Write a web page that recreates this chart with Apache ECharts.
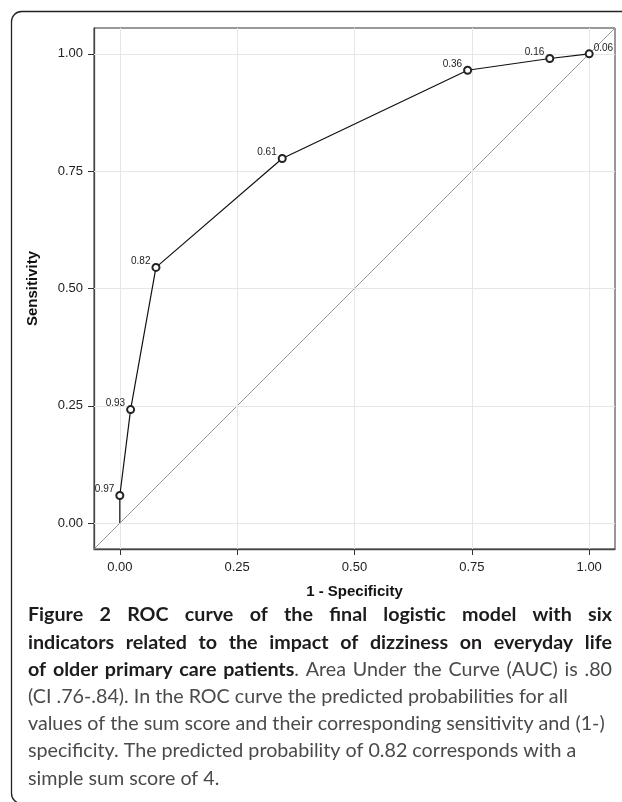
<!DOCTYPE html>
<html>
<head>
<meta charset="utf-8">
<script src="https://cdn.jsdelivr.net/npm/echarts@6/dist/echarts.min.js"></script>
<style>
html, body { margin: 0; padding: 0; background: #fff; }
#chart { width: 622px; height: 802px; }
</style>
</head>
<body>
<div id="chart"></div>
<script>
// ROC curve: 1 - specificity, sensitivity, predicted probability at each cut-off
var fpr = [0, 0, 0.023, 0.077, 0.346, 0.741, 0.916, 1.0];
var tpr = [0, 0.059, 0.242, 0.545, 0.777, 0.965, 0.990, 1.0];
var probLabels = ['', '0.97', '0.93', '0.82', '0.61', '0.36', '0.16', '0.06'];

var tickValues = [0, 0.25, 0.5, 0.75, 1];
var tickLabels = ['0.00', '0.25', '0.50', '0.75', '1.00'];
var axisRange = [-0.055, 1.055];

// caption text
var captionBold = [
  'Figure 2 ROC curve of the final logistic model with six',
  'indicators related to the impact of dizziness on everyday life',
  'of older primary care patients'
];
var captionLine3Rest = '. Area Under the Curve (AUC) is .80';
var captionPlain = [
  '(CI .76-.84). In the ROC curve the predicted probabilities for all',
  'values of the sum score and their corresponding sensitivity and (1-)',
  'specificity. The predicted probability of 0.82 corresponds with a',
  'simple sum score of 4.'
];

var axisFont = 'Liberation Sans, Arial, sans-serif';
var capFont = 'Lato';
var capLeft = 28, capRight = 612, capTop = 615, capStep = 27.2;

var ctx = document.createElement('canvas').getContext('2d');
function textW(t, bold, size) {
  ctx.font = (bold ? 'bold ' : 'normal ') + size + 'px ' + capFont;
  return ctx.measureText(t).width;
}
// fit the plain caption size to the width of the longest plain line
var capSize = Math.round(16 * (606 - capLeft) / textW(captionPlain[1], false, 16) * 10) / 10;

function capText(t, x, y, bold) {
  return {
    type: 'text', x: x, y: y, silent: true,
    style: {
      text: t, fill: bold ? '#1e1b1c' : '#4a4a4a',
      fontSize: capSize, fontWeight: bold ? 'bold' : 'normal', fontFamily: capFont,
      align: 'left', verticalAlign: 'middle'
    }
  };
}

// words are lists of [text, bold] pieces, spread over the full width
function justify(words, y) {
  var widths = words.map(function (w) {
    return w.reduce(function (s, p) { return s + textW(p[0], p[1], capSize); }, 0);
  });
  var total = widths.reduce(function (a, b) { return a + b; }, 0);
  var gap = (capRight - capLeft - total) / (words.length - 1);
  var x = capLeft, els = [];
  words.forEach(function (w, i) {
    var px = x;
    w.forEach(function (p) {
      els.push(capText(p[0], px, y, p[1]));
      px += textW(p[0], p[1], capSize);
    });
    x += widths[i] + gap;
  });
  return els;
}

var captionEls = [];
captionBold.slice(0, 2).forEach(function (line, i) {
  var words = line.split(' ').map(function (w) { return [[w, true]]; });
  captionEls = captionEls.concat(justify(words, capTop + i * capStep));
});
var w3 = captionBold[2].split(' ').map(function (w) { return [[w, true]]; });
var rest = captionLine3Rest.split(' ');
w3[w3.length - 1].push([rest[0], false]);
rest.slice(1).forEach(function (w) { w3.push([[w, false]]); });
captionEls = captionEls.concat(justify(w3, capTop + 2 * capStep));
captionPlain.forEach(function (line, i) {
  captionEls.push(capText(line, capLeft, capTop + (3 + i) * capStep, false));
});

function tickLabel(v) {
  for (var k = 0; k < tickValues.length; k++) {
    if (Math.abs(tickValues[k] - v) < 1e-9) return tickLabels[k];
  }
  return '';
}

var pointData = fpr.map(function (x, i) {
  var last = i === fpr.length - 1;
  return {
    value: [x, tpr[i]],
    symbol: probLabels[i] ? 'emptyCircle' : 'none',
    label: {
      show: !!probLabels[i],
      formatter: probLabels[i],
      position: last ? 'right' : 'left',
      distance: last ? 0 : 1,
      offset: [0, -6],
      fontSize: 10,
      color: '#222',
      fontFamily: axisFont
    }
  };
});

function makeAxis(name, gap, isY) {
  return {
    type: 'value',
    min: axisRange[0],
    max: axisRange[1],
    name: name,
    nameLocation: 'middle',
    nameGap: gap,
    nameRotate: isY ? 90 : 0,
    nameTextStyle: { fontWeight: 'bold', fontSize: 15, color: '#111', fontFamily: axisFont },
    axisLine: { show: true, onZero: false, lineStyle: { color: '#444', width: 1.3 } },
    axisTick: { show: true, length: 6, customValues: tickValues, lineStyle: { color: '#333' } },
    axisLabel: {
      customValues: tickValues,
      formatter: tickLabel,
      fontSize: 13,
      color: '#222',
      margin: isY ? 11 : 12,
      fontFamily: axisFont
    },
    splitLine: { show: false }
  };
}

var gridLines = tickValues.map(function (v) { return { xAxis: v }; })
  .concat(tickValues.map(function (v) { return { yAxis: v }; }));

var chart = echarts.init(document.getElementById('chart'));
chart.setOption({
  animation: false,
  backgroundColor: '#fff',
  grid: {
    left: 94, top: 28, right: 7, bottom: 253,
    show: true, borderColor: '#333', borderWidth: 1
  },
  xAxis: makeAxis('1 - Specificity', 35, false),
  yAxis: makeAxis('Sensitivity', 54, true),
  series: [
    {
      // panel gridlines at the major ticks
      type: 'line',
      data: [],
      z: 1,
      silent: true,
      markLine: {
        silent: true,
        symbol: ['none', 'none'],
        label: { show: false },
        lineStyle: { color: '#e6e6e6', width: 1, type: 'solid' },
        emphasis: { disabled: true },
        data: gridLines
      }
    },
    {
      // chance line
      type: 'line',
      data: [[axisRange[0], axisRange[0]], [axisRange[1], axisRange[1]]],
      symbol: 'none',
      z: 3,
      silent: true,
      lineStyle: { color: '#9a9a9a', width: 1 }
    },
    {
      type: 'line',
      data: pointData,
      symbolSize: 7,
      z: 5,
      lineStyle: { color: '#111', width: 1.2 },
      itemStyle: { color: '#222', borderColor: '#222', borderWidth: 0.8 },
      emphasis: { disabled: true }
    }
  ],
  graphic: [
    {
      type: 'rect',
      silent: true,
      shape: { x: 11.5, y: 11.5, width: 640, height: 792, r: 10 },
      style: { fill: 'none', stroke: '#222', lineWidth: 1.3 }
    }
  ].concat(captionEls)
});
</script>
</body>
</html>
